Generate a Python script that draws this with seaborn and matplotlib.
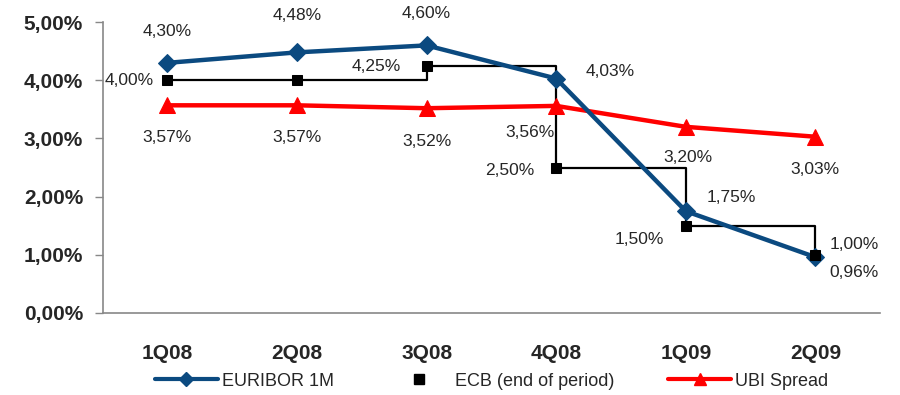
import numpy as np
import pandas as pd
import matplotlib
matplotlib.use("Agg")
import matplotlib.pyplot as plt
from matplotlib.lines import Line2D
import seaborn as sns

quarters = ["1Q08", "2Q08", "3Q08", "4Q08", "1Q09", "2Q09"]
euribor = [4.30, 4.48, 4.60, 4.03, 1.75, 0.96]
ecb = [4.00, 4.00, 4.25, 2.50, 1.50, 1.00]
ubi = [3.57, 3.57, 3.52, 3.56, 3.20, 3.03]

blue = "#0b4a80"
red = "#ff0000"

sns.set_style("white")
plt.rcParams["font.family"] = ["Liberation Sans", "DejaVu Sans"]

df = pd.DataFrame({"x": np.arange(len(quarters)), "euribor": euribor,
                   "ecb": ecb, "ubi": ubi})

fig = plt.figure(figsize=(9, 3.95), dpi=100)
ax = fig.add_axes([0.114, 0.2076, 0.864, 0.7364])

sns.lineplot(data=df, x="x", y="ecb", ax=ax, color="black", lw=1.6,
             drawstyle="steps-post", zorder=2)
sns.lineplot(data=df, x="x", y="ecb", ax=ax, color="black", lw=0,
             marker="s", markersize=7, markeredgecolor="black", zorder=5)
sns.lineplot(data=df, x="x", y="ubi", ax=ax, color=red, lw=3.2,
             marker="^", markersize=11, markeredgecolor=red, zorder=3)
sns.lineplot(data=df, x="x", y="euribor", ax=ax, color=blue, lw=3.2,
             marker="D", markersize=9, markeredgecolor=blue, zorder=4)

def fmt(v):
    return f"{v:.2f}%".replace(".", ",")

eur_off = [(0, 31), (0, 37), (0, 32), (54, 7), (46, 14), (39, -15)]
ecb_off = [(-38, 0), (-50, -1), (-46, -3), (-46, -14), (39, 10)]
ecb_idx = [0, 2, 3, 4, 5]
ubi_off = [(0, -32), (0, -32), (0, -33), (-26, -27), (2, -31), (0, -33)]

lab_fs = 12.5
for i, (v, o) in enumerate(zip(euribor, eur_off)):
    ax.annotate(fmt(v), (i, v), xytext=o, textcoords="offset pixels",
                ha="center", va="center", fontsize=lab_fs)
for i, o in zip(ecb_idx, ecb_off):
    ax.annotate(fmt(ecb[i]), (i, ecb[i]), xytext=o, textcoords="offset pixels",
                ha="center", va="center", fontsize=lab_fs)
for i, (v, o) in enumerate(zip(ubi, ubi_off)):
    ax.annotate(fmt(v), (i, v), xytext=o, textcoords="offset pixels",
                ha="center", va="center", fontsize=lab_fs)

ax.set_xlim(-0.5, 5.5)
ax.set_ylim(0, 5)
ax.set_xticks(range(len(quarters)))
ax.set_xticklabels(quarters, fontsize=15, fontweight="bold")
yt = [0, 1, 2, 3, 4, 5]
ax.set_yticks(yt)
ax.set_yticklabels([fmt(v) for v in yt], fontsize=15, fontweight="bold")
ax.set_xlabel("")
ax.set_ylabel("")
ax.tick_params(axis="x", length=0, pad=22)
ax.tick_params(axis="y", length=6, width=1, color="#888888", direction="out",
               left=True, pad=8)
for s in ["top", "right"]:
    ax.spines[s].set_visible(False)
for s in ["left", "bottom"]:
    ax.spines[s].set_color("#888888")
    ax.spines[s].set_linewidth(1.2)

handles = [
    Line2D([], [], color=blue, lw=3, marker="D", markersize=7),
    Line2D([], [], color="black", lw=0, marker="s", markersize=7),
    Line2D([], [], color=red, lw=3, marker="^", markersize=8),
]
ax.legend(handles, ["EURIBOR 1M", "ECB (end of period)", "UBI Spread"],
          loc="center", bbox_to_anchor=(0.5, -0.234), ncol=3, frameon=False,
          fontsize=13, handlelength=3.5, handletextpad=0.2, columnspacing=3)

fig.savefig("out.png", dpi=100)
